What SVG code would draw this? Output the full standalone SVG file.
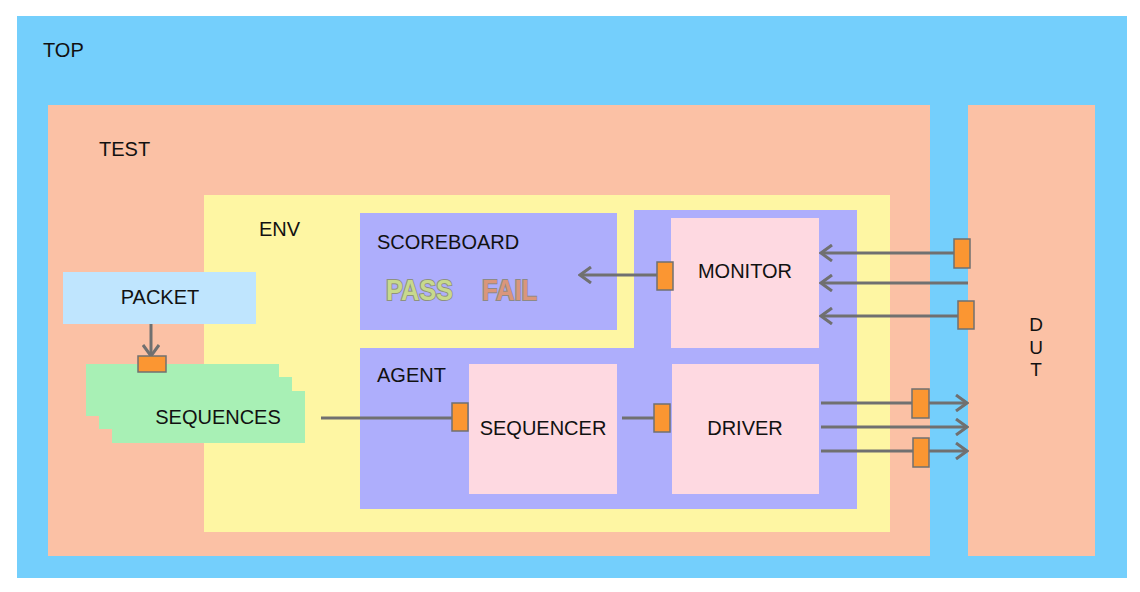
<svg xmlns="http://www.w3.org/2000/svg" width="1140" height="592" viewBox="0 0 1140 592">
<style>
text{font-family:"Liberation Sans",Arial,sans-serif;font-size:20px;fill:#111}
.c{text-anchor:middle}
.pink{fill:#fed9e1}
.blue{fill:#aeaefc}
.port{fill:#fb9632;stroke:#707070;stroke-width:1.5}
.wire{stroke:#707070;stroke-width:3;fill:none}
.arr{stroke:#707070;stroke-width:3;fill:none;marker-end:url(#ah)}
.wa{font-size:29px;font-weight:bold;stroke-width:2;paint-order:stroke}
</style>
<defs>
<marker id="ah" viewBox="0 0 14 18" refX="12" refY="9" markerWidth="14" markerHeight="18" markerUnits="userSpaceOnUse" orient="auto">
<path d="M1,1 L12,9 L1,17" fill="none" stroke="#707070" stroke-width="3"/>
</marker>
</defs>
<rect width="1140" height="592" fill="#ffffff"/>
<g id="top">
<rect x="17" y="16" width="1110" height="562" fill="#74cffc"/>
<text x="43" y="57">TOP</text>
</g>
<g id="test">
<rect x="48" y="105" width="882" height="451" fill="#fbc1a5"/>
<text x="99" y="156">TEST</text>
</g>
<g id="dut">
<rect x="968" y="105" width="127" height="451" fill="#fbc1a5"/>
<text class="c" x="1036" y="331" style="font-size:19px">D</text>
<text class="c" x="1036" y="354" style="font-size:19px">U</text>
<text class="c" x="1036" y="376" style="font-size:19px">T</text>
</g>
<g id="env">
<rect x="204" y="195" width="686" height="337" fill="#fef6a3"/>
<text x="259" y="236">ENV</text>
</g>
<g id="scoreboard">
<rect class="blue" x="360" y="213" width="257" height="117"/>
<text x="377" y="249">SCOREBOARD</text>
<text class="wa" x="386" y="300" textLength="67" lengthAdjust="spacingAndGlyphs" style="fill:#c8d98c;stroke:#8e9280">PASS</text>
<text class="wa" x="482" y="300" textLength="55" lengthAdjust="spacingAndGlyphs" style="fill:#da967b;stroke:#8e8a86">FAIL</text>
</g>
<g id="agent">
<path class="blue" d="M634,210 H857 V509 H360 V348 H634 Z"/>
<text x="377" y="382">AGENT</text>
</g>
<g id="monitor">
<rect class="pink" x="671" y="218" width="148" height="130"/>
<text class="c" x="745" y="278">MONITOR</text>
</g>
<g id="sequencer">
<rect class="pink" x="469" y="364" width="148" height="130"/>
<text class="c" x="543" y="435">SEQUENCER</text>
</g>
<g id="driver">
<rect class="pink" x="672" y="364" width="147" height="130"/>
<text class="c" x="745" y="435">DRIVER</text>
</g>
<g id="packet">
<rect x="63" y="272" width="193" height="52" fill="#bfe5fe"/>
<text class="c" x="160" y="304">PACKET</text>
</g>
<g id="sequences">
<rect x="86" y="364" width="193" height="52" fill="#a8f0b5"/>
<rect x="99" y="377" width="193" height="52" fill="#a8f0b5"/>
<rect x="112" y="391" width="193" height="52" fill="#a8f0b5"/>
<text class="c" x="218" y="424">SEQUENCES</text>
</g>
<g id="connectors">
<line class="arr" x1="151" y1="324" x2="151" y2="356"/>
<line class="wire" x1="321" y1="418" x2="452" y2="418"/>
<line class="wire" x1="622" y1="418" x2="654" y2="418"/>
<line class="arr" x1="657" y1="275" x2="580" y2="275"/>
<line class="arr" x1="954" y1="253" x2="821" y2="253"/>
<line class="arr" x1="968" y1="283" x2="821" y2="283"/>
<line class="arr" x1="958" y1="316" x2="821" y2="316"/>
<line class="arr" x1="821" y1="403" x2="967" y2="403"/>
<line class="arr" x1="821" y1="427" x2="967" y2="427"/>
<line class="arr" x1="821" y1="451" x2="967" y2="451"/>
</g>
<g id="ports">
<rect class="port" x="138" y="356" width="28" height="16"/>
<rect class="port" x="452" y="403" width="16" height="28"/>
<rect class="port" x="654" y="404" width="16" height="28"/>
<rect class="port" x="657" y="262" width="16" height="28"/>
<rect class="port" x="954" y="239" width="16" height="29"/>
<rect class="port" x="958" y="301" width="16" height="28"/>
<rect class="port" x="912" y="389" width="17" height="29"/>
<rect class="port" x="913" y="438" width="16" height="29"/>
</g>
</svg>
